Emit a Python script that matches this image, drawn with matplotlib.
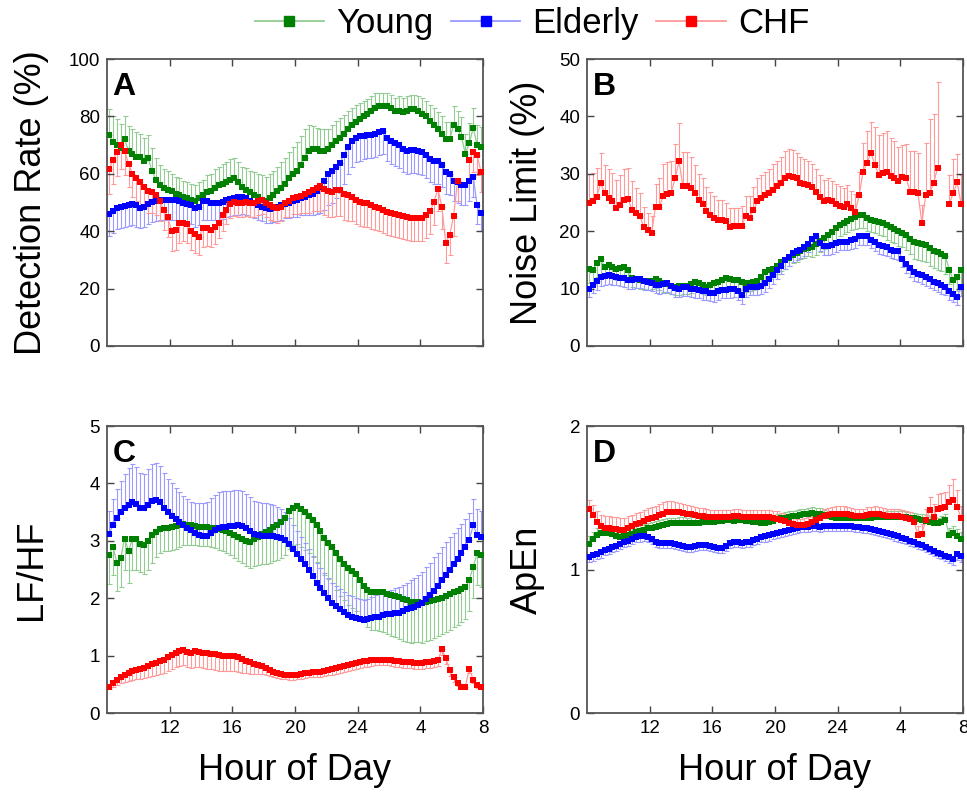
import numpy as np
import matplotlib
matplotlib.use('Agg')
import matplotlib.pyplot as plt
from matplotlib.lines import Line2D

plt.rcParams['font.family'] = ['Liberation Sans', 'DejaVu Sans']
nan = np.nan

# 15-minute bins from 08:00 to 08:00 next day (hours after midnight of day 1)
hours = np.arange(8.125, 32.0, 0.25)
groups = ['Young', 'Elderly', 'CHF']
xtick_pos = [12, 16, 20, 24, 28, 32]
xtick_labels = ['12', '16', '20', '24', '4', '8']

# ---------------- Panel A: Detection Rate (%) ----------------
young_A = [
    73.5, 71, 70, 69, 72, 68, 67, 66, 66, 64.5, 65.5, 61, 58, 56, 55, 54.5,
    54, 53, 52.5, 52, 51.5, 51, 50.5, 51.5, 52.5, 53.5, 54, 55, 56, 56.5, 57, 58,
    58.5, 57, 55.5, 54.5, 53.5, 52.5, 52, 51, 50.5, 51.5, 52.5, 54, 55, 56.5, 58.5, 60,
    61, 63, 65.5, 68, 68.5, 68.5, 68, 68, 68.5, 70, 71.5, 72.5, 74, 75.5, 77, 78,
    79, 80, 81, 82, 83, 83.5, 83.5, 83.5, 83, 82, 82, 81.5, 82, 82.5, 82.5, 82,
    81, 80, 78.5, 77, 75.5, 74, 72, 72, 77, 75.5, 72.8, 67, 70.7, 76, 70, 69.3]
young_A_err = [
    9, 9, 9, 8.5, 8, 8.5, 8.5, 8.5, 8, 8, 8, 8, 7.5, 7, 6.5, 6.5,
    6, 6, 6, 5.5, 5.5, 5.5, 5.5, 5.5, 5.5, 6, 6, 6.5, 6.5, 7, 7, 7,
    7, 7, 7, 7.5, 7.5, 8, 8, 8.5, 8.5, 8.5, 8.5, 8.5, 9, 9, 9, 9.5,
    10, 10, 10, 9, 8, 7.5, 7.5, 7.5, 7, 7, 7, 7, 6.5, 6.5, 6, 6,
    5.5, 5.5, 5, 5, 5, 4.5, 4.5, 4.5, 4.5, 4.5, 5, 5, 5, 5, 5, 5,
    5.5, 5.5, 5.5, 6, 6, 6, 6, 6, 6.5, 6.5, 7, 7, 7, 7, 7, 7]
elderly_A = [
    46.0, 47.0, 48.2, 48.5, 48.8, 49.3, 49.5, 49.0, 48.0, 48.5, 49.5, 50.2, 50.5, 51.0, 51.0, 51.0,
    51.0, 50.8, 50.5, 50.0, 49.5, 49.0, 48.0, 48.5, 50.5, 50.5, 50.0, 49.8, 50.0, 50.3, 50.8, 51.3,
    51.5, 51.8, 52.0, 51.5, 50.5, 50.0, 49.3, 48.6, 48.0, 47.7, 48.2, 48.6, 49.0, 49.5, 50.0, 50.5,
    51.0, 51.5, 52.0, 52.5, 53.0, 54.0, 55.5, 57.5, 60.0, 61.0, 62.5, 63.8, 66.5, 69.5, 71.5, 72.5,
    73.0, 73.3, 73.5, 73.6, 74.0, 74.5, 74.8, 72.5, 71.5, 70.8, 70.0, 68.8, 67.8, 68.2, 68.4, 67.8,
    67.5, 66.5, 65.2, 64.5, 64.5, 63.0, 60.5, 60.0, 57.5, 57.0, 56.0, 56.0, 57.5, 59.0, 49.0, 46.5]
elderly_A_err = [
    7.5, 7.5, 7.5, 7.5, 7.5, 7.5, 7.5, 7.5, 7, 7, 7, 7, 7, 7, 7, 7,
    7, 7, 6.5, 6.5, 6.5, 6.5, 6.5, 6.5, 6.5, 6.5, 6, 6, 6, 6, 6, 6,
    6, 6, 6, 6, 5.5, 5.5, 5.5, 5, 5, 5, 5, 5, 5, 5, 5.5, 5.5,
    6, 6, 6.5, 7, 7.5, 8, 9, 10, 11, 11, 11, 10.5, 10, 9.5, 9, 8.5,
    8.5, 8, 8, 8, 8, 8, 8, 8, 8, 8, 8, 8, 8, 8, 8, 8,
    8, 8, 8, 8, 8, 7.5, 7.5, 7.5, 7, 7, 7, 7, 7, 7, 6.5, 6.5]
chf_A = [
    61.5, 64.8, 67.6, 70, 68, 63.5, 60, 58.5, 57, 55.5, 54, 53.8, 52.5, 50.5, 47.5, 45,
    40, 40.5, 42.8, 43, 42.5, 40, 39, 38.1, 41, 41, 40.5, 41.5, 43, 45.5, 47.5, 49.5,
    50.3, 50, 49.8, 50.3, 50, 49.8, 50.5, 51, 49.8, 49, 48.5, 48, 48.5, 49.8, 50.5, 51.5,
    52, 52.3, 53, 53.5, 54.4, 55.2, 55.6, 54.8, 54, 53.8, 54.2, 54.2, 53, 52.5, 52, 51,
    50.3, 50, 49.8, 49.3, 48.5, 48, 47.3, 46.8, 46.4, 46, 45.7, 45.3, 45, 44.6, 44.5, 44.5,
    44.6, 45.5, 47, 50.2, 54.7, 48.4, 35.9, 38.7, 45.3, 57.5, nan, nan, 64.8, 67.6, 66.5, 60.6]
chf_A_err = [
    8.5, 8.5, 8.5, 8.5, 8.5, 8, 8, 8, 8, 7.5, 7.5, 7.5, 7, 7, 7, 7,
    7, 7, 7, 6.5, 6.5, 6.5, 6.5, 6.5, 6.5, 6, 6, 6, 5.5, 5.5, 5, 5,
    5, 5, 5, 5, 5, 5, 5, 5, 5, 5, 5, 5, 5, 5, 5.5, 5.5,
    6, 6, 6.5, 7, 7.5, 8, 8.5, 9, 9, 9, 9, 9, 9, 9, 8.5, 8.5,
    8.5, 8.5, 8.5, 8.5, 8, 8, 8, 8, 8, 8, 8, 8, 8, 8, 8, 8,
    8, 8, 8, 8, 7.5, 7.5, 7, 7, 7, 7, nan, nan, 7, 7, 7, 7]

# ---------------- Panel B: Noise Limit (%) ----------------
young_B = [
    13.5, 13.3, 14.5, 15.1, 13.8, 14.1, 13.8, 13.5, 13.6, 13.8, 13.2, 11.8, 11.6, 11.5, 11.4, 11.3,
    11.4, 11.6, 11.3, 10.9, 10.8, 10.5, 10.3, 10.4, 10.5, 10.5, 10.8, 11.2, 11.0, 10.6, 10.3, 10.7,
    10.9, 11.1, 11.5, 11.8, 11.6, 11.5, 11.5, 11.2, 10.9, 11.0, 11.2, 11.4, 12.0, 12.9, 13.2, 13.5,
    14.0, 14.6, 15.0, 15.4, 15.9, 16.2, 16.6, 16.9, 17.1, 17.3, 17.8, 18.3, 18.9, 19.4, 19.9, 20.5,
    21.1, 21.5, 21.8, 22.2, 22.5, 22.8, 22.8, 22.3, 22.0, 21.8, 21.6, 21.4, 21.0, 20.7, 20.4, 20.0,
    19.7, 19.3, 18.6, 18.1, 17.9, 17.8, 17.6, 17.0, 16.6, 16.3, 16.0, 15.6, 13.3, 11.5, 12.1, 13.3]
young_B_err = [
    2.5, 2.5, 2.5, 2.5, 2, 2, 2, 2, 2, 2, 2, 1.5, 1.5, 1.5, 1.5, 1.5,
    1.5, 1.5, 1.5, 1.5, 1.5, 1.5, 1.5, 1.5, 1.5, 1.5, 1.5, 1.5, 1.5, 1.5, 1.5, 1.5,
    1.5, 1.5, 1.5, 1.5, 1.5, 1.5, 1.5, 1.5, 1.5, 1.5, 1.5, 1.5, 1.5, 1.5, 1.5, 1.5,
    1.5, 1.5, 1.5, 1.5, 1.5, 1.5, 1.5, 1.5, 1.5, 1.8, 2, 2, 2, 2, 2, 2,
    2, 2, 2, 2, 2.2, 2.2, 2.2, 2.2, 2.2, 2.2, 2.2, 2.2, 2.5, 2.5, 2.5, 2.5,
    2.5, 2.5, 2.5, 3, 3, 3, 3, 3, 3, 3, 3, 3, 2.5, 2.5, 2.5, 2.5]
elderly_B = [
    10.0, 10.6, 11.3, 12.0, 12.2, 12.3, 12.2, 12.1, 11.9, 11.8, 11.5, 11.5, 11.6, 11.6, 11.3, 11.2,
    11.0, 10.7, 10.6, 10.8, 10.9, 10.5, 10.1, 10.0, 10.2, 10.2, 10.0, 9.9, 9.8, 9.6, 9.5, 9.3,
    9.2, 9.6, 9.8, 9.8, 9.9, 10.0, 9.5, 8.9, 10.0, 10.3, 10.3, 10.3, 10.5, 10.9, 11.6, 12.3,
    13.2, 14.0, 15.0, 15.5, 16.2, 16.5, 16.8, 17.2, 17.8, 18.6, 19.1, 18.0, 17.4, 17.4, 17.6, 17.9,
    18.2, 18.2, 18.2, 18.4, 18.6, 19.1, 19.1, 19.1, 18.5, 18.1, 17.6, 17.4, 17.2, 16.8, 16.6, 16.5,
    15.2, 14.3, 13.6, 12.9, 12.6, 12.3, 12.0, 11.6, 11.2, 10.9, 10.6, 10.3, 9.6, 9.1, 8.6, 10.2]
elderly_B_err = [
    1.4, 1.4, 1.5, 1.5, 1.5, 1.5, 1.5, 1.5, 1.5, 1.5, 1.5, 1.5, 1.5, 1.5, 1.5, 1.5,
    1.5, 1.5, 1.5, 1.5, 1.5, 1.5, 1.5, 1.5, 1.5, 1.5, 1.5, 1.5, 1.5, 1.5, 1.5, 1.5,
    1.5, 1.5, 1.5, 1.5, 1.5, 1.5, 1.5, 1.5, 1.5, 1.5, 1.5, 1.5, 1.5, 1.5, 1.5, 1.5,
    1.5, 1.5, 1.5, 1.5, 1.5, 1.5, 1.5, 1.5, 1.5, 1.5, 1.5, 1.5, 1.5, 1.5, 1.5, 1.5,
    1.5, 1.5, 1.5, 1.5, 1.5, 1.5, 1.5, 1.5, 1.5, 1.5, 1.5, 1.5, 1.5, 1.5, 1.5, 1.5,
    1.5, 1.5, 1.5, 1.5, 1.5, 1.5, 1.5, 1.5, 1.5, 1.5, 1.5, 1.5, 1.5, 1.5, 1.5, 1.5]
chf_B = [
    25, 25.2, 26, 28.4, 26.6, 25.8, 25.2, 24, 24.6, 25.5, 25.6, 23.7, 23.1, 22.7, 20.7, 20.2,
    19.7, 24.3, 24.3, 26.2, 26.5, 26.7, 29.2, 32.2, 27.8, 27.8, 27.5, 26.6, 25.5, 24.8, 23.5, 22.8,
    22.3, 22, 21.9, 21.7, 20.8, 20.9, 20.9, 20.9, 22.7, 22.3, 23.7, 25.2, 25.8, 26.3, 26.6, 27.2,
    27.8, 28.4, 29.2, 29.7, 29.4, 29.2, 28.4, 28.3, 28.1, 27.7, 26.9, 26, 25.2, 25.5, 25.2, 24.8,
    24.4, 24.3, 24.8, 24, 23.4, 26.3, 30.4, 31.9, 33.6, 31.6, 29.8, 30.1, 30.4, 29.7, 29.2, 28.7,
    29.4, 29.2, 26.9, 26.9, 26.6, 21.5, 26.3, 26.6, 28.4, 31, nan, nan, 24.8, 26.6, 28.5, 24.8]
chf_B_err = [
    5, 5, 5, 5.2, 5, 5, 5, 5, 5.2, 5.4, 5.4, 5, 4.5, 4, 3.5, 3,
    3, 4, 5, 5.5, 5.5, 5.5, 6, 6.6, 6, 6, 5.5, 5, 4.5, 4.5, 4.2, 4,
    3.8, 3.5, 3.5, 3.2, 3.2, 3.2, 3.2, 3.5, 3.5, 3.8, 4, 4, 4, 4, 4.2, 4.5,
    4.5, 4.6, 4.7, 4.7, 4.7, 4.5, 4.5, 4.3, 4.2, 4, 4, 3.8, 3.8, 3.8, 3.6, 3.5,
    3.4, 3.2, 3.2, 3, 3, 4, 5, 5.5, 5.5, 6.5, 7, 7, 7, 6.5, 6.5, 6,
    5.7, 6, 7, 7, 7, 3, 9, 13, 12, 15, nan, nan, 5, 6, 5, 5]

# ---------------- Panel C: LF/HF ----------------
young_C = [
    2.75, 2.90, 2.62, 2.70, 3.04, 2.82, 3.04, 3.04, 2.95, 2.92, 3.00, 3.10, 3.16, 3.20, 3.23, 3.23,
    3.24, 3.25, 3.28, 3.29, 3.28, 3.27, 3.25, 3.24, 3.24, 3.24, 3.23, 3.22, 3.20, 3.19, 3.17, 3.14,
    3.10, 3.07, 3.04, 3.00, 2.98, 3.03, 3.07, 3.12, 3.15, 3.19, 3.24, 3.28, 3.33, 3.40, 3.52, 3.58,
    3.60, 3.55, 3.50, 3.43, 3.37, 3.28, 3.17, 3.05, 2.97, 2.90, 2.78, 2.68, 2.60, 2.53, 2.47, 2.42,
    2.32, 2.22, 2.14, 2.11, 2.11, 2.10, 2.10, 2.08, 2.06, 2.04, 2.02, 1.99, 1.96, 1.94, 1.94, 1.93,
    1.91, 1.93, 1.95, 1.97, 1.99, 2.01, 2.04, 2.07, 2.10, 2.13, 2.16, 2.19, 2.32, 2.55, 2.78, 2.75]
young_C_err = [
    0.5, 0.5, 0.5, 0.5, 0.55, 0.55, 0.55, 0.55, 0.5, 0.5, 0.5, 0.48, 0.45, 0.42, 0.4, 0.4,
    0.4, 0.4, 0.38, 0.36, 0.35, 0.34, 0.33, 0.33, 0.33, 0.33, 0.34, 0.35, 0.36, 0.37, 0.38, 0.39,
    0.4, 0.42, 0.43, 0.44, 0.45, 0.47, 0.5, 0.52, 0.55, 0.58, 0.6, 0.62, 0.63, 0.64, 0.66, 0.66,
    0.66, 0.66, 0.66, 0.65, 0.65, 0.65, 0.64, 0.64, 0.64, 0.64, 0.64, 0.64, 0.64, 0.64, 0.64, 0.64,
    0.64, 0.64, 0.65, 0.66, 0.67, 0.68, 0.69, 0.7, 0.71, 0.72, 0.73, 0.73, 0.73, 0.72, 0.71, 0.7,
    0.69, 0.68, 0.67, 0.66, 0.65, 0.64, 0.63, 0.62, 0.61, 0.6, 0.58, 0.56, 0.55, 0.55, 0.55, 0.55]
elderly_C = [
    3.12, 3.27, 3.40, 3.50, 3.57, 3.62, 3.68, 3.64, 3.58, 3.57, 3.63, 3.69, 3.71, 3.68, 3.58, 3.50,
    3.44, 3.38, 3.33, 3.28, 3.22, 3.18, 3.14, 3.10, 3.08, 3.08, 3.13, 3.18, 3.23, 3.24, 3.24, 3.25,
    3.26, 3.27, 3.25, 3.22, 3.17, 3.12, 3.10, 3.09, 3.08, 3.08, 3.08, 3.07, 3.05, 3.02, 2.95, 2.86,
    2.77, 2.69, 2.60, 2.50, 2.38, 2.27, 2.18, 2.09, 2.00, 1.92, 1.86, 1.81, 1.76, 1.71, 1.68, 1.65,
    1.63, 1.62, 1.63, 1.65, 1.67, 1.68, 1.70, 1.72, 1.73, 1.74, 1.75, 1.78, 1.81, 1.83, 1.85, 1.88,
    1.92, 1.98, 2.05, 2.13, 2.21, 2.31, 2.41, 2.50, 2.59, 2.69, 2.79, 2.90, 3.02, 3.27, 3.10, 3.07]
elderly_C_err = [
    0.4, 0.45, 0.5, 0.55, 0.6, 0.65, 0.65, 0.65, 0.6, 0.6, 0.62, 0.64, 0.64, 0.62, 0.6, 0.58,
    0.56, 0.54, 0.52, 0.5, 0.5, 0.5, 0.52, 0.55, 0.58, 0.6, 0.62, 0.62, 0.62, 0.62, 0.62, 0.62,
    0.62, 0.62, 0.62, 0.6, 0.6, 0.58, 0.58, 0.57, 0.57, 0.56, 0.55, 0.52, 0.5, 0.48, 0.45, 0.42,
    0.4, 0.38, 0.36, 0.36, 0.35, 0.35, 0.35, 0.35, 0.35, 0.35, 0.35, 0.35, 0.35, 0.35, 0.35, 0.35,
    0.35, 0.35, 0.36, 0.37, 0.38, 0.39, 0.4, 0.41, 0.42, 0.43, 0.44, 0.45, 0.46, 0.48, 0.5, 0.52,
    0.54, 0.56, 0.57, 0.58, 0.58, 0.58, 0.57, 0.56, 0.55, 0.53, 0.5, 0.48, 0.46, 0.45, 0.45, 0.45]
chf_C = [
    0.46, 0.52, 0.57, 0.62, 0.66, 0.70, 0.73, 0.75, 0.77, 0.79, 0.82, 0.85, 0.87, 0.90, 0.93, 0.97,
    1.01, 1.05, 1.08, 1.09, 1.06, 1.05, 1.08, 1.07, 1.05, 1.04, 1.03, 1.02, 1.01, 1.00, 1.00, 1.00,
    0.99, 0.97, 0.94, 0.91, 0.88, 0.86, 0.84, 0.82, 0.79, 0.75, 0.72, 0.70, 0.68, 0.67, 0.66, 0.66,
    0.67, 0.68, 0.69, 0.70, 0.71, 0.71, 0.72, 0.73, 0.75, 0.76, 0.78, 0.80, 0.82, 0.84, 0.85, 0.87,
    0.88, 0.90, 0.91, 0.92, 0.93, 0.93, 0.93, 0.93, 0.92, 0.91, 0.90, 0.89, 0.88, 0.88, 0.87, 0.87,
    0.87, 0.88, 0.88, 0.90, 0.92, 1.11, 0.95, 0.75, 0.62, 0.53, 0.46, 0.46, 0.77, 0.58, 0.49, 0.46]
chf_C_err = [
    0.05, 0.06, 0.08, 0.1, 0.12, 0.14, 0.15, 0.16, 0.17, 0.18, 0.19, 0.2, 0.21, 0.22, 0.23, 0.24,
    0.25, 0.25, 0.26, 0.26, 0.26, 0.26, 0.27, 0.27, 0.27, 0.27, 0.27, 0.27, 0.27, 0.27, 0.27, 0.27,
    0.26, 0.25, 0.24, 0.22, 0.2, 0.18, 0.16, 0.14, 0.12, 0.1, 0.09, 0.09, 0.08, 0.08, 0.08, 0.08,
    0.08, 0.08, 0.08, 0.08, 0.08, 0.08, 0.09, 0.09, 0.09, 0.09, 0.1, 0.1, 0.1, 0.1, 0.1, 0.1,
    0.1, 0.1, 0.1, 0.1, 0.1, 0.1, 0.1, 0.1, 0.1, 0.1, 0.1, 0.1, 0.1, 0.1, 0.1, 0.1,
    0.1, 0.1, 0.1, 0.1, 0.1, 0.1, 0.1, 0.1, 0.08, 0.06, 0.05, 0.05, 0.08, 0.06, 0.05, 0.05]

# ---------------- Panel D: ApEn ----------------
young_D = [
    1.18, 1.21, 1.24, 1.256, 1.253, 1.251, 1.25, 1.235, 1.224, 1.23, 1.24, 1.25, 1.26, 1.268, 1.276, 1.286,
    1.292, 1.298, 1.305, 1.31, 1.318, 1.321, 1.322, 1.326, 1.324, 1.321, 1.324, 1.326, 1.326, 1.328, 1.333, 1.333,
    1.334, 1.337, 1.34, 1.344, 1.342, 1.34, 1.343, 1.344, 1.34, 1.337, 1.333, 1.328, 1.326, 1.326, 1.33, 1.34,
    1.35, 1.356, 1.362, 1.367, 1.37, 1.374, 1.379, 1.385, 1.39, 1.395, 1.39, 1.386, 1.378, 1.37, 1.365, 1.36,
    1.356, 1.356, 1.356, 1.356, 1.356, 1.356, 1.356, 1.358, 1.36, 1.363, 1.363, 1.363, 1.365, 1.367, 1.367, 1.367,
    1.365, 1.363, 1.36, 1.356, 1.35, 1.345, 1.34, 1.333, 1.326, 1.321, 1.33, 1.344, 1.24, 1.256, 1.235, 1.21]
young_D_err = [
    0.05, 0.05, 0.05, 0.05, 0.045, 0.045, 0.045, 0.045, 0.045, 0.045, 0.04, 0.04, 0.04, 0.04, 0.04, 0.04,
    0.04, 0.04, 0.04, 0.04, 0.04, 0.04, 0.04, 0.04, 0.04, 0.04, 0.04, 0.04, 0.04, 0.04, 0.04, 0.04,
    0.04, 0.04, 0.04, 0.04, 0.04, 0.04, 0.04, 0.04, 0.04, 0.04, 0.04, 0.04, 0.04, 0.04, 0.04, 0.04,
    0.04, 0.04, 0.04, 0.04, 0.04, 0.04, 0.04, 0.04, 0.04, 0.04, 0.04, 0.04, 0.04, 0.04, 0.04, 0.04,
    0.04, 0.04, 0.04, 0.04, 0.04, 0.04, 0.04, 0.04, 0.04, 0.04, 0.04, 0.04, 0.04, 0.04, 0.04, 0.04,
    0.04, 0.04, 0.04, 0.04, 0.04, 0.04, 0.04, 0.04, 0.04, 0.04, 0.04, 0.04, 0.05, 0.05, 0.05, 0.05]
elderly_D = [
    1.089, 1.10, 1.11, 1.12, 1.135, 1.146, 1.157, 1.167, 1.178, 1.19, 1.202, 1.214, 1.224, 1.23, 1.232, 1.228,
    1.21, 1.195, 1.185, 1.182, 1.185, 1.185, 1.178, 1.17, 1.163, 1.16, 1.159, 1.163, 1.168, 1.17, 1.17, 1.165,
    1.158, 1.152, 1.147, 1.165, 1.182, 1.193, 1.19, 1.187, 1.19, 1.193, 1.205, 1.214, 1.224, 1.23, 1.237, 1.245,
    1.252, 1.258, 1.265, 1.272, 1.283, 1.29, 1.294, 1.297, 1.299, 1.302, 1.3, 1.298, 1.3, 1.302, 1.302, 1.302,
    1.302, 1.302, 1.302, 1.3, 1.298, 1.295, 1.292, 1.288, 1.282, 1.276, 1.266, 1.26, 1.252, 1.245, 1.237, 1.23,
    1.222, 1.212, 1.202, 1.19, 1.178, 1.168, 1.155, 1.143, 1.13, 1.118, 1.107, 1.095, 1.085, 1.072, 1.105, 1.095]
elderly_D_err = [
    0.04, 0.04, 0.04, 0.04, 0.035, 0.035, 0.035, 0.035, 0.035, 0.035, 0.035, 0.035, 0.035, 0.035, 0.035, 0.035,
    0.035, 0.035, 0.035, 0.035, 0.035, 0.035, 0.035, 0.035, 0.035, 0.035, 0.035, 0.035, 0.035, 0.035, 0.035, 0.035,
    0.035, 0.035, 0.035, 0.035, 0.035, 0.035, 0.035, 0.035, 0.035, 0.035, 0.035, 0.035, 0.035, 0.035, 0.035, 0.035,
    0.035, 0.035, 0.035, 0.035, 0.035, 0.035, 0.035, 0.035, 0.035, 0.035, 0.035, 0.035, 0.035, 0.035, 0.035, 0.035,
    0.035, 0.035, 0.035, 0.035, 0.035, 0.035, 0.035, 0.035, 0.035, 0.035, 0.035, 0.035, 0.035, 0.035, 0.035, 0.035,
    0.035, 0.035, 0.035, 0.035, 0.035, 0.035, 0.035, 0.035, 0.035, 0.035, 0.035, 0.035, 0.04, 0.04, 0.04, 0.04]
chf_D = [
    1.42, 1.38, 1.33, 1.30, 1.29, 1.29, 1.285, 1.28, 1.278, 1.276, 1.29, 1.30, 1.315, 1.325, 1.335, 1.35,
    1.36, 1.367, 1.38, 1.39, 1.40, 1.402, 1.402, 1.398, 1.395, 1.388, 1.385, 1.38, 1.376, 1.372, 1.368, 1.367,
    1.364, 1.363, 1.363, 1.365, 1.367, 1.370, 1.370, 1.367, 1.365, 1.363, 1.363, 1.364, 1.367, 1.366, 1.363, 1.358,
    1.355, 1.347, 1.338, 1.322, 1.315, 1.309, 1.309, 1.312, 1.318, 1.33, 1.344, 1.36, 1.37, 1.378, 1.385, 1.39,
    1.39, 1.39, 1.388, 1.38, 1.372, 1.372, 1.375, 1.383, 1.388, 1.39, 1.385, 1.378, 1.373, 1.372, 1.372, 1.37,
    1.367, 1.36, 1.349, 1.333, 1.24, 1.25, 1.344, 1.414, 1.367, 1.425, 1.43, 1.437, 1.472, 1.483, 1.437, 1.36]
chf_D_err = [
    0.065, 0.07, 0.075, 0.08, 0.083, 0.083, 0.083, 0.083, 0.083, 0.083, 0.08, 0.08, 0.08, 0.078, 0.078, 0.077,
    0.077, 0.077, 0.077, 0.077, 0.077, 0.075, 0.07, 0.065, 0.06, 0.058, 0.055, 0.055, 0.055, 0.055, 0.052, 0.05,
    0.05, 0.05, 0.05, 0.05, 0.05, 0.05, 0.05, 0.05, 0.05, 0.05, 0.05, 0.05, 0.05, 0.05, 0.05, 0.05,
    0.05, 0.05, 0.05, 0.048, 0.045, 0.045, 0.045, 0.045, 0.045, 0.045, 0.045, 0.048, 0.05, 0.05, 0.05, 0.05,
    0.05, 0.05, 0.05, 0.05, 0.05, 0.05, 0.05, 0.05, 0.05, 0.05, 0.05, 0.05, 0.05, 0.05, 0.05, 0.05,
    0.05, 0.05, 0.05, 0.05, 0.06, 0.07, 0.08, 0.09, 0.09, 0.1, 0.1, 0.1, 0.12, 0.15, 0.12, 0.08]

# ---------------- drawing ----------------
COL = {'Young': '#008000', 'Elderly': '#0000ff', 'CHF': '#ff0000'}
LIGHT = {'Young': '#92cc92', 'Elderly': '#9a9aff', 'CHF': '#ff9a9a'}

W, H = 967, 792
fig = plt.figure(figsize=(W / 100, H / 100), dpi=100)


def add_ax(l, t, r, b):
    return fig.add_axes([l / W, 1 - b / H, (r - l) / W, (b - t) / H])


def draw_panel(ax, series):
    # series: list of (name, values, err, direction)
    for name, y, e, d in series:
        y = np.asarray(y, float)
        e = np.asarray(e, float)
        z = np.zeros_like(e)
        yerr = [e, z] if d == 'down' else [z, e]
        ax.errorbar(hours, y, yerr=yerr, fmt='none', ecolor=LIGHT[name],
                    elinewidth=0.8, capsize=1.8, capthick=0.8, zorder=1)
    for name, y, e, d in series:
        ax.plot(hours, y, '-', color=LIGHT[name], lw=0.9, zorder=2)
    for name, y, e, d in series:
        ax.plot(hours, y, 's', color=COL[name], ms=5, mew=0, zorder=3)


def style(ax, ylim, yticks, ylabel, letter, lab_x, bottom):
    ax.set_xlim(8, 32)
    ax.set_ylim(*ylim)
    ax.set_xticks(xtick_pos)
    ax.set_yticks(yticks)
    ax.tick_params(direction='in', length=5, width=1, top=True, right=True,
                   labelsize=13.5, pad=5, color='#444444')
    for s in ax.spines.values():
        s.set_color('#555555')
        s.set_linewidth(1.3)
    ax.set_ylabel(ylabel, fontsize=26)
    ax.yaxis.set_label_coords(lab_x, 0.5)
    ax.text(0.015, 0.955, letter, transform=ax.transAxes, fontsize=23,
            fontweight='bold', va='top', ha='left')
    if bottom:
        ax.set_xticklabels(xtick_labels)
        ax.set_xlabel('Hour of Day', fontsize=26)
        ax.xaxis.set_label_coords(0.5, -0.14)
    else:
        ax.set_xticklabels([])


axA = add_ax(107, 59, 483, 346)
axB = add_ax(587, 59, 963, 346)
axC = add_ax(107, 426, 483, 713)
axD = add_ax(587, 426, 963, 713)

draw_panel(axA, [('Young', young_A, young_A_err, 'up'),
                 ('Elderly', elderly_A, elderly_A_err, 'down'),
                 ('CHF', chf_A, chf_A_err, 'down')])
draw_panel(axB, [('Young', young_B, young_B_err, 'down'),
                 ('Elderly', elderly_B, elderly_B_err, 'down'),
                 ('CHF', chf_B, chf_B_err, 'up')])
draw_panel(axC, [('Young', young_C, young_C_err, 'down'),
                 ('Elderly', elderly_C, elderly_C_err, 'up'),
                 ('CHF', chf_C, chf_C_err, 'down')])
draw_panel(axD, [('Young', young_D, young_D_err, 'up'),
                 ('Elderly', elderly_D, elderly_D_err, 'down'),
                 ('CHF', chf_D, chf_D_err, 'up')])

style(axA, (0, 100), [0, 20, 40, 60, 80, 100], 'Detection Rate (%)', 'A', -0.155, False)
style(axB, (0, 50), [0, 10, 20, 30, 40, 50], 'Noise Limit (%)', 'B', -0.113, False)
style(axC, (0, 5), [0, 1, 2, 3, 4, 5], 'LF/HF', 'C', -0.155, True)
style(axD, (0, 2), [0, 1, 2], 'ApEn', 'D', -0.113, True)

handles = [Line2D([0], [0], color=LIGHT[g], lw=1.3, marker='s', ms=7,
                  mfc=COL[g], mec=COL[g]) for g in groups]
fig.legend(handles, groups, loc='upper center', bbox_to_anchor=(532 / W, 1.03),
           ncol=3, frameon=False, fontsize=25, handlelength=2.0,
           handletextpad=0.35, columnspacing=0.5)

fig.savefig('out.png', dpi=100)
